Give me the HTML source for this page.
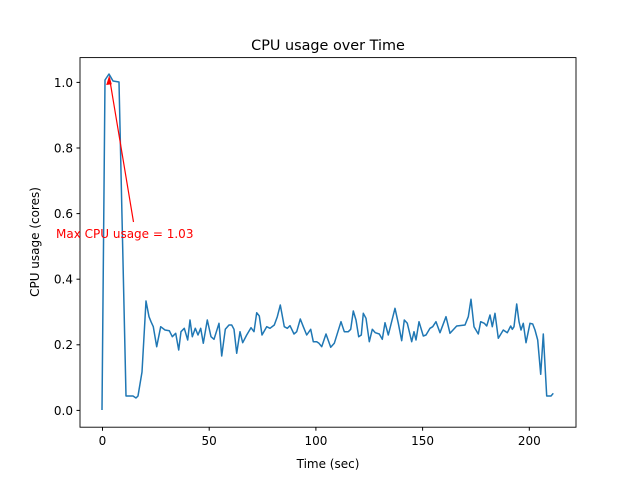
<!DOCTYPE html>
<html><head><meta charset="utf-8"><style>
body{margin:0;background:#fff;}
svg text{font-family:"DejaVu Sans","Liberation Sans",sans-serif;}
</style></head><body>
<svg id="s" width="640" height="480" viewBox="0 0 640 480" xmlns="http://www.w3.org/2000/svg">
<rect width="640" height="480" fill="#fff"/>
<text x="328" y="50" font-size="14.4" text-anchor="middle">CPU usage over Time</text>
<g id="plot"></g>
<rect x="80" y="57.6" width="496" height="369.6" fill="none" stroke="#000" stroke-width="0.9"/>
<g font-size="12" text-anchor="middle">
<line x1="102.5" y1="427.2" x2="102.5" y2="430.7" stroke="#000"/><text x="102.5" y="445">0</text>
<line x1="209.2" y1="427.2" x2="209.2" y2="430.7" stroke="#000"/><text x="209.2" y="445">50</text>
<line x1="315.9" y1="427.2" x2="315.9" y2="430.7" stroke="#000"/><text x="315.9" y="445">100</text>
<line x1="422.6" y1="427.2" x2="422.6" y2="430.7" stroke="#000"/><text x="422.6" y="445">150</text>
<line x1="529.3" y1="427.2" x2="529.3" y2="430.7" stroke="#000"/><text x="529.3" y="445">200</text>
<text x="328" y="468">Time (sec)</text>
</g>
<g font-size="12" text-anchor="end">
<line x1="76.5" y1="410.4" x2="80" y2="410.4" stroke="#000"/><text x="73" y="414.8">0.0</text>
<line x1="76.5" y1="344.8" x2="80" y2="344.8" stroke="#000"/><text x="73" y="349.2">0.2</text>
<line x1="76.5" y1="279.2" x2="80" y2="279.2" stroke="#000"/><text x="73" y="283.6">0.4</text>
<line x1="76.5" y1="213.6" x2="80" y2="213.6" stroke="#000"/><text x="73" y="218">0.6</text>
<line x1="76.5" y1="148" x2="80" y2="148" stroke="#000"/><text x="73" y="152.4">0.8</text>
<line x1="76.5" y1="82.4" x2="80" y2="82.4" stroke="#000"/><text x="73" y="86.8">1.0</text>
</g>
<text transform="translate(39,242) rotate(-90)" font-size="12" text-anchor="middle">CPU usage (cores)</text>
<line x1="133.5" y1="222" x2="109.5" y2="78" stroke="#f00" stroke-width="1.2"/>
<path d="M109.2,75.5 L106.2,85 L111.8,84.2 Z" fill="#f00"/>
<text x="56" y="238" font-size="12" fill="#f00">Max CPU usage = 1.03</text>
</svg>
<script>
var A=[[102,410],[105,80],[109,74],[113,81],[119,82],[126,396],[133,396],[136,398],[138,396],[142,372],[146,301]];
var Z=[[8,280],[17,65],[27,110],[33,125],[40,140],[50,200],[62,140],[75,150],[88,152],[97,170],[107,160],[116,210],[123,155],[133,145],[143,180],[150,120],[157,170],[166,145],[174,165],[182,145],[190,190],[202,120],[213,170],[222,178],[237,130],[245,228],[256,148],[267,135],[275,135],[282,148],[290,220],[300,155],[308,188],[320,165],[333,143],[342,155],[350,98],[358,108],[366,165],[380,140],[390,145],[403,135],[412,110],[421,75],[433,140],[442,145],[450,137],[462,162],[470,155],[481,117],[490,140],[500,165],[512,148],[520,185],[530,185],[537,190],[545,200],[558,162],[572,202],[583,190],[603,125],[613,155],[625,155],[632,148],[640,93],[648,120],[656,170],[664,165],[670,100],[678,115],[688,185],[697,148],[706,158],[718,162],[727,178],[735,128],[745,165],[765,85],[775,130],[785,182],[793,120],[802,130],[815,185],[822,155],[828,180],[837,125],[850,168],[858,165],[870,145],[878,140],[888,125],[900,158],[918,110],[930,160],[950,138],[975,135],[985,110],[993,58],[1002,140],[1015,162],[1022,125],[1033,130],[1040,138],[1050,105],[1057,140],[1065,100],[1075,175],[1090,150],[1102,158],[1112,138],[1117,148],[1122,140],[1130,72],[1137,125],[1143,150],[1150,130],[1158,188],[1170,130],[1178,132],[1185,150],[1193,180],[1202,283],[1210,162],[1220,348],[1233,348],[1240,340]];
var pts=A.map(function(p){return p[0]+","+p[1];});
Z.forEach(function(p){if(140+p[0]/3>146)pts.push((140+p[0]/3).toFixed(1)+","+(280+p[1]/3).toFixed(1));});
var pl=document.createElementNS("http://www.w3.org/2000/svg","polyline");
pl.setAttribute("points",pts.join(" "));pl.setAttribute("fill","none");pl.setAttribute("stroke","#1f77b4");pl.setAttribute("stroke-width","1.5");pl.setAttribute("stroke-linejoin","round");
document.getElementById("plot").appendChild(pl);
</script>
</body></html>
